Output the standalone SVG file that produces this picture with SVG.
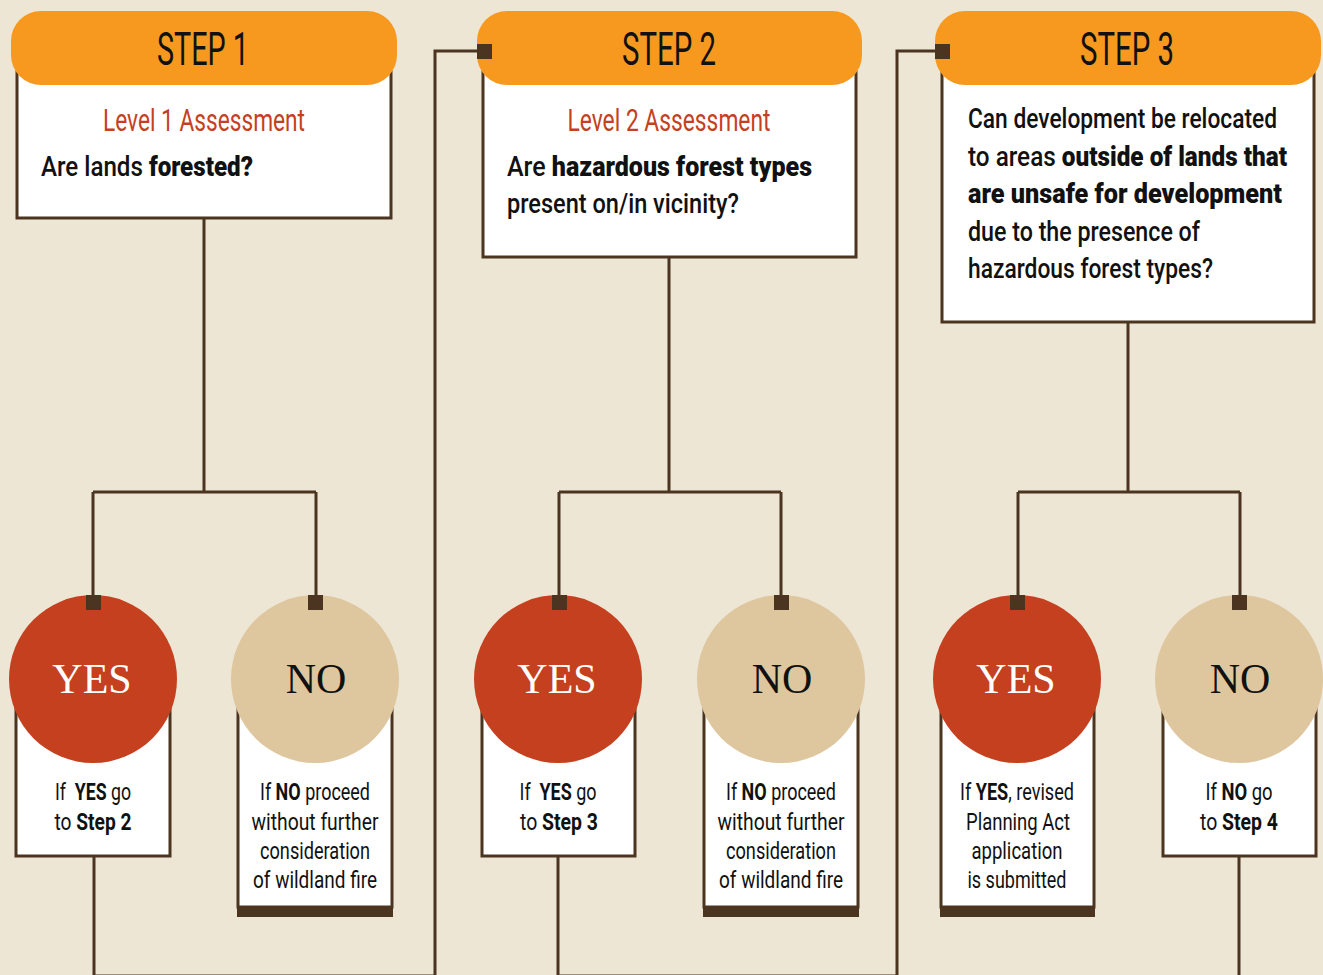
<svg xmlns="http://www.w3.org/2000/svg" width="1323" height="975" viewBox="0 0 1323 975">
<style>
.bg{fill:#EEE6D5}
.hdr{fill:#F7991F}
.box{fill:#FFFFFF;stroke:#4B3520;stroke-width:3}
.yes{fill:#C5401E}
.no{fill:#DEC69E}
.sq{fill:#4B3520}
.bar{fill:#4B3520}
.ln{fill:none;stroke:#4B3520;stroke-width:3}
.step{font-family:Roboto,"Liberation Sans",Arial,sans-serif;font-weight:400;font-size:46px;fill:#111;text-anchor:middle}
.lvl{font-family:Roboto,"Liberation Sans",Arial,sans-serif;font-size:32px;fill:#C5401E;text-anchor:middle}
.q{font-family:Roboto,"Liberation Sans",Arial,sans-serif;font-weight:500;font-size:27px;fill:#111}
.b{font-weight:900}
.yn{font-family:"Liberation Serif","Times New Roman",serif;font-size:42px;text-anchor:middle}
.sm{font-family:Roboto,"Liberation Sans",Arial,sans-serif;font-size:24px;fill:#111;text-anchor:middle}
.sm .b{font-weight:bold}
</style>
<rect class="bg" x="0" y="0" width="1323" height="975"/>

<g id="connectors">
<path class="ln" d="M204,218 V492 M93,492 H316 M93,492 V603 M316,492 V603"/>
<path class="ln" d="M669,257 V492 M559,492 H781 M559,492 V603 M781,492 V603"/>
<path class="ln" d="M1128,322 V492 M1018,492 H1240 M1018,492 V603 M1240,492 V603"/>
<path class="ln" d="M94,856 V976 H435 V51 H484"/>
<path class="ln" d="M558,856 V976 H897 V51 H943"/>
<path class="ln" d="M1239,856 V980"/>
</g>

<g id="step1">
<rect class="box" x="17" y="72" width="374" height="146"/>
<rect class="hdr" x="11" y="11" width="386" height="74" rx="30"/>
<text class="step" x="203" y="65" textLength="92" lengthAdjust="spacingAndGlyphs">STEP 1</text>
<text class="lvl" x="204" y="131" textLength="202" lengthAdjust="spacingAndGlyphs">Level 1 Assessment</text>
<text class="q" x="41" y="176" textLength="212" lengthAdjust="spacingAndGlyphs">Are lands <tspan class="b">forested?</tspan></text>
</g>

<g id="step2">
<rect class="box" x="483" y="72" width="373" height="185"/>
<rect class="hdr" x="477" y="11" width="385" height="74" rx="30"/>
<rect class="sq" x="477" y="44" width="15" height="15"/>
<text class="step" x="669" y="65" textLength="94" lengthAdjust="spacingAndGlyphs">STEP 2</text>
<text class="lvl" x="669" y="131" textLength="203" lengthAdjust="spacingAndGlyphs">Level 2 Assessment</text>
<text class="q" x="507" y="176" textLength="305" lengthAdjust="spacingAndGlyphs">Are <tspan class="b">hazardous forest types</tspan></text>
<text class="q" x="507" y="213" textLength="232" lengthAdjust="spacingAndGlyphs">present on/in vicinity?</text>
</g>

<g id="step3">
<rect class="box" x="942" y="72" width="372" height="250"/>
<rect class="hdr" x="935" y="11" width="386" height="74" rx="30"/>
<rect class="sq" x="935" y="44" width="15" height="15"/>
<text class="step" x="1127" y="65" textLength="94" lengthAdjust="spacingAndGlyphs">STEP 3</text>
<text class="q" x="968" y="128" textLength="309" lengthAdjust="spacingAndGlyphs">Can development be relocated</text>
<text class="q" x="968" y="166" textLength="319" lengthAdjust="spacingAndGlyphs">to areas <tspan class="b">outside of lands that</tspan></text>
<text class="q b" x="968" y="203" textLength="314" lengthAdjust="spacingAndGlyphs">are unsafe for development</text>
<text class="q" x="968" y="241" textLength="232" lengthAdjust="spacingAndGlyphs">due to the presence of</text>
<text class="q" x="968" y="278" textLength="245" lengthAdjust="spacingAndGlyphs">hazardous forest types?</text>
</g>

<g id="yes1">
<rect class="box" x="16" y="690" width="154" height="166"/>
<circle class="yes" cx="93" cy="679" r="84"/>
<rect class="sq" x="86" y="595" width="15" height="15"/>
<text class="yn" x="92" y="693" fill="#FFFFFF">YES</text>
<text class="sm" x="93" y="800" textLength="76" lengthAdjust="spacingAndGlyphs">If&#160; <tspan class="b">YES</tspan> go</text>
<text class="sm" x="93" y="830" textLength="77" lengthAdjust="spacingAndGlyphs">to <tspan class="b">Step 2</tspan></text>
</g>

<g id="no1">
<rect class="box" x="238" y="690" width="154" height="217"/>
<rect class="bar" x="237" y="906" width="156" height="11"/>
<circle class="no" cx="315" cy="679" r="84"/>
<rect class="sq" x="308" y="595" width="15" height="15"/>
<text class="yn" x="316" y="693" fill="#111">NO</text>
<text class="sm" x="315" y="800" textLength="110" lengthAdjust="spacingAndGlyphs">If <tspan class="b">NO</tspan> proceed</text>
<text class="sm" x="315" y="830" textLength="127" lengthAdjust="spacingAndGlyphs">without further</text>
<text class="sm" x="315" y="859" textLength="110" lengthAdjust="spacingAndGlyphs">consideration</text>
<text class="sm" x="315" y="888" textLength="124" lengthAdjust="spacingAndGlyphs">of wildland fire</text>
</g>

<g id="yes2">
<rect class="box" x="482" y="690" width="153" height="166"/>
<circle class="yes" cx="558" cy="679" r="84"/>
<rect class="sq" x="552" y="595" width="15" height="15"/>
<text class="yn" x="557" y="693" fill="#FFFFFF">YES</text>
<text class="sm" x="558" y="800" textLength="77" lengthAdjust="spacingAndGlyphs">If&#160; <tspan class="b">YES</tspan> go</text>
<text class="sm" x="559" y="830" textLength="78" lengthAdjust="spacingAndGlyphs">to <tspan class="b">Step 3</tspan></text>
</g>

<g id="no2">
<rect class="box" x="704" y="690" width="154" height="217"/>
<rect class="bar" x="703" y="906" width="156" height="11"/>
<circle class="no" cx="781" cy="679" r="84"/>
<rect class="sq" x="774" y="595" width="15" height="15"/>
<text class="yn" x="782" y="693" fill="#111">NO</text>
<text class="sm" x="781" y="800" textLength="110" lengthAdjust="spacingAndGlyphs">If <tspan class="b">NO</tspan> proceed</text>
<text class="sm" x="781" y="830" textLength="127" lengthAdjust="spacingAndGlyphs">without further</text>
<text class="sm" x="781" y="859" textLength="110" lengthAdjust="spacingAndGlyphs">consideration</text>
<text class="sm" x="781" y="888" textLength="124" lengthAdjust="spacingAndGlyphs">of wildland fire</text>
</g>

<g id="yes3">
<rect class="box" x="941" y="690" width="153" height="217"/>
<rect class="bar" x="940" y="906" width="155" height="11"/>
<circle class="yes" cx="1017" cy="679" r="84"/>
<rect class="sq" x="1010" y="595" width="15" height="15"/>
<text class="yn" x="1016" y="693" fill="#FFFFFF">YES</text>
<text class="sm" x="1017" y="800" textLength="114" lengthAdjust="spacingAndGlyphs">If <tspan class="b">YES</tspan>, revised</text>
<text class="sm" x="1018" y="830" textLength="104" lengthAdjust="spacingAndGlyphs">Planning Act</text>
<text class="sm" x="1017" y="859" textLength="91" lengthAdjust="spacingAndGlyphs">application</text>
<text class="sm" x="1017" y="888" textLength="99" lengthAdjust="spacingAndGlyphs">is submitted</text>
</g>

<g id="no3">
<rect class="box" x="1163" y="690" width="153" height="166"/>
<circle class="no" cx="1239" cy="679" r="84"/>
<rect class="sq" x="1232" y="595" width="15" height="15"/>
<text class="yn" x="1240" y="693" fill="#111">NO</text>
<text class="sm" x="1239" y="800" textLength="67" lengthAdjust="spacingAndGlyphs">If <tspan class="b">NO</tspan> go</text>
<text class="sm" x="1239" y="830" textLength="78" lengthAdjust="spacingAndGlyphs">to <tspan class="b">Step 4</tspan></text>
</g>
</svg>
